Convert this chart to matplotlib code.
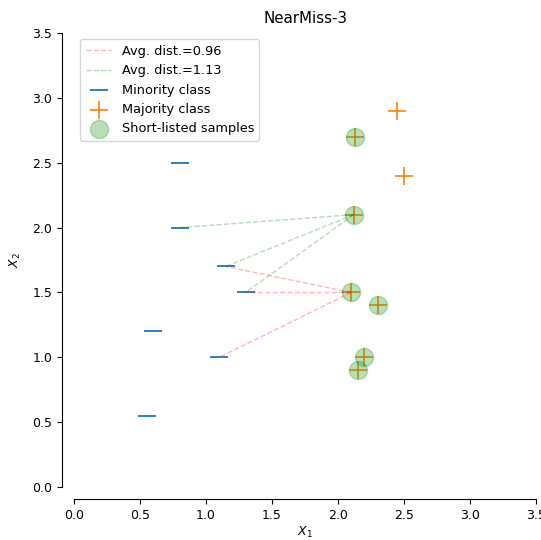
import numpy as np
import matplotlib
matplotlib.use("Agg")
import matplotlib.pyplot as plt

plt.rcParams["font.size"] = 9

# toy samples
X_minority = np.array([[0.55, 0.55], [0.6, 1.2], [0.8, 2.5], [0.8, 2.0],
                       [1.1, 1.0], [1.15, 1.7], [1.3, 1.5]])
X_majority = np.array([[2.1, 1.5], [2.12, 2.1], [2.13, 2.7], [2.15, 0.9],
                       [2.2, 1.0], [2.3, 1.4], [2.45, 2.9], [2.5, 2.4]])
shortlisted = [0, 1, 2, 3, 4, 5]

# majority sample -> its 3 nearest minority samples
neighbors = {0: [5, 6, 4], 1: [3, 5, 6]}
line_colors = {0: "r", 1: "g"}

fig = plt.figure(figsize=(5.41, 5.40), dpi=100)
ax = fig.add_axes([0.1368, 0.0981, 0.854, 0.8408])

for maj_idx, nn in neighbors.items():
    dists = np.linalg.norm(X_minority[nn] - X_majority[maj_idx], axis=1)
    label = "Avg. dist.={:.2f}".format(dists.mean())
    for k, mi in enumerate(nn):
        ax.plot([X_majority[maj_idx, 0], X_minority[mi, 0]],
                [X_majority[maj_idx, 1], X_minority[mi, 1]],
                "--", color=line_colors[maj_idx], alpha=0.28, lw=1.0,
                label=label if k == 0 else None)

ax.scatter(X_minority[:, 0], X_minority[:, 1], s=180, marker="_",
           color="tab:blue", linewidths=1.3, label="Minority class")
ax.scatter(X_majority[:, 0], X_majority[:, 1], s=180, marker="+",
           color="tab:orange", linewidths=1.2, label="Majority class")
ax.scatter(X_majority[shortlisted, 0], X_majority[shortlisted, 1], s=170,
           color="tab:green", alpha=0.33, label="Short-listed samples")

# despine with offset
for side in ["top", "right"]:
    ax.spines[side].set_visible(False)
ax.spines["left"].set_position(("outward", 8.6))
ax.spines["bottom"].set_position(("outward", 8.6))

ax.set_xlim([0, 3.5])
ax.set_ylim([0, 3.5])
ax.set_xlabel(r"$X_1$", labelpad=2)
ax.set_ylabel(r"$X_2$", labelpad=7)
ax.set_title("NearMiss-3", fontsize=10.8, pad=7.5)
ax.legend(loc="upper left", fontsize=9.3)

fig.savefig("out.png", dpi=100)
